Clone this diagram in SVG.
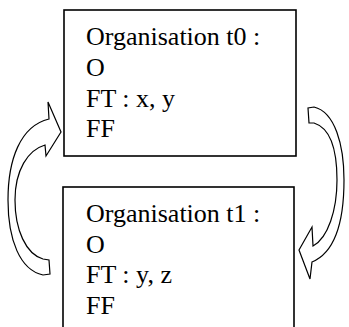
<svg xmlns="http://www.w3.org/2000/svg" width="349" height="327" viewBox="0 0 349 327">
<style>
.box{fill:#fff;stroke:#000;stroke-width:1.6}
.arr{fill:#fff;stroke:#000;stroke-width:1.2;stroke-linejoin:miter}
.lbl{font-family:'Liberation Serif','Times New Roman',Tinos,'Noto Serif','DejaVu Serif',serif;font-size:26px;fill:#000}
</style>
<rect width="349" height="327" fill="#fff"/>
<g id="connectors">
<path class="arr" d="M43,259 L49,260 L50,274 L43,275 C 20,270 8,240 8,200 C 8,160 20,126 49,119 L48,102 L61,132 L46,156 L45,145 C 28,150 15,170 15,200 C 15,230 26,254 43,259 Z"/>
<path class="arr" d="M309,123 L308,108 L314,107 C 335,112 344,145 344,180 C 344,218 336,252 312,262 L310,279 L299,250 L312,227 L313,246 C 328,238 337,210 337,180 C 337,150 330,128 314,123 Z"/>
</g>
<g id="node-t0" class="lbl">
<rect class="box" x="64" y="10" width="232" height="146"/>
<text x="86" y="45">Organisation t0 :</text>
<text x="86" y="76">O</text>
<text x="86" y="107">FT : x, y</text>
<text x="86" y="137">FF</text>
</g>
<g id="node-t1" class="lbl">
<rect class="box" x="63" y="187" width="231" height="160"/>
<text x="86" y="222">Organisation t1 :</text>
<text x="86" y="253">O</text>
<text x="86" y="283">FT : y, z</text>
<text x="86" y="314">FF</text>
</g>
</svg>
